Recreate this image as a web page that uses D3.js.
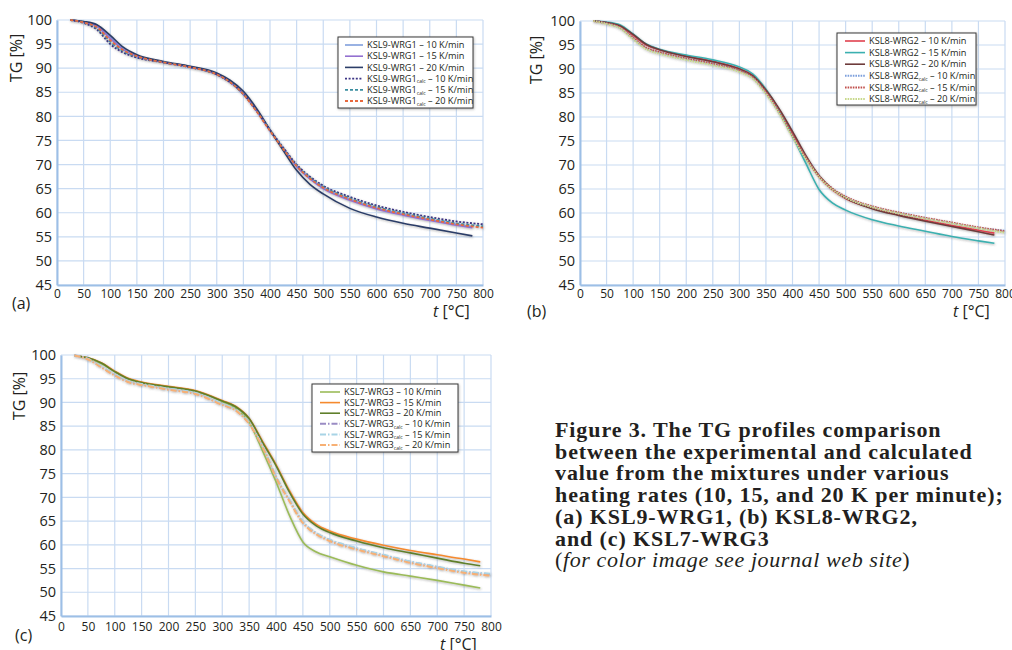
<!DOCTYPE html>
<html>
<head>
<meta charset="utf-8">
<script src="https://cdn.jsdelivr.net/npm/d3@7"></script>
<style>
  html, body { margin: 0; padding: 0; background: #fff; }
  svg { display: block; }
  .tick-y { font: 14.5px "Open Sans", sans-serif; fill: #231f20; }
  .tick-x { font: 12px "Open Sans", sans-serif; fill: #231f20; }
  .ax-title { font: 16px "Open Sans", sans-serif; fill: #231f20; }
  .leg { font: 9.2px "Open Sans", sans-serif; fill: #231f20; }
  .cap { font: bold 22px "Liberation Serif", "Times New Roman", serif; fill: #231f20; }
  .cap-it { font: 22px "Liberation Serif", "Times New Roman", serif; fill: #231f20; }
</style>
</head>
<body>
<div id="chart"></div>
<script>
// temperatures (°C) – experiment stops at 780, calc runs to 800
const tExp  = [25, 50, 75, 100, 125, 150, 200, 250, 300, 325, 350, 375, 400, 425, 450, 475, 500, 550, 600, 650, 700, 750, 780];
const tCalc = [25, 50, 75, 100, 125, 150, 200, 250, 300, 325, 350, 375, 400, 425, 450, 475, 500, 550, 600, 650, 700, 750, 800];

const xTicks = d3.range(0, 801, 50);
const yTicks = d3.range(45, 101, 5);

// (a) KSL9-WRG1
const a_exp10  = [100, 99.6, 98.8, 96.4, 94.0, 92.6, 91.3, 90.3, 88.8, 87.2, 84.8, 81.3, 77.2, 73.4, 69.8, 67.2, 65.2, 62.8, 61.0, 59.7, 58.6, 57.6, 57.1];
const a_exp15  = [100, 99.6, 98.7, 96.2, 93.8, 92.5, 91.2, 90.2, 88.7, 87.1, 84.6, 81.1, 77.0, 73.2, 69.6, 67.0, 65.0, 62.6, 60.8, 59.5, 58.4, 57.4, 56.9];
const a_exp20  = [100, 99.7, 99.0, 96.8, 94.3, 92.8, 91.4, 90.4, 89.0, 87.5, 85.2, 81.6, 77.2, 72.9, 68.8, 65.9, 63.9, 60.9, 59.1, 57.8, 56.8, 55.8, 55.2];
const a_calc10 = [100, 99.4, 98.0, 95.0, 93.2, 92.2, 91.2, 90.2, 88.7, 87.1, 84.7, 81.2, 77.2, 73.5, 70.0, 67.5, 65.6, 63.3, 61.5, 60.2, 59.1, 58.2, 57.6];
const a_calc15 = [100, 99.5, 98.3, 95.5, 93.5, 92.4, 91.2, 90.2, 88.7, 87.1, 84.6, 81.1, 77.1, 73.3, 69.8, 67.3, 65.4, 63.0, 61.2, 59.9, 58.8, 57.8, 57.2];
const a_calc20 = [100, 99.5, 98.5, 95.8, 93.7, 92.5, 91.2, 90.2, 88.7, 87.1, 84.6, 81.0, 77.0, 73.2, 69.7, 67.1, 65.2, 62.8, 61.0, 59.7, 58.6, 57.6, 56.9];

// (b) KSL8-WRG2
const b_exp10  = [100, 99.7, 99.0, 97.0, 95.0, 94.0, 92.7, 91.6, 90.1, 88.7, 85.6, 81.5, 76.6, 71.6, 67.5, 64.8, 63.0, 61.0, 59.6, 58.5, 57.4, 56.4, 55.8];
const b_exp15  = [100, 99.8, 99.2, 97.3, 95.2, 94.1, 92.9, 91.9, 90.4, 89.0, 85.8, 81.4, 76.0, 70.4, 64.9, 62.1, 60.6, 58.6, 57.3, 56.2, 55.1, 54.2, 53.7];
const b_exp20  = [100, 99.7, 99.0, 97.2, 95.1, 94.0, 92.6, 91.5, 90.0, 88.6, 85.6, 81.7, 77.0, 72.0, 67.8, 65.0, 63.1, 60.9, 59.5, 58.3, 57.2, 56.1, 55.4];
const b_calc10 = [100, 99.5, 98.6, 96.4, 94.3, 93.4, 92.1, 91.0, 89.6, 88.2, 85.0, 80.9, 76.0, 71.5, 67.6, 65.0, 63.3, 61.3, 60.0, 58.9, 57.9, 56.9, 56.3];
const b_calc15 = [100, 99.5, 98.7, 96.5, 94.4, 93.5, 92.2, 91.1, 89.7, 88.3, 85.2, 81.1, 76.2, 71.6, 67.7, 65.1, 63.4, 61.4, 60.1, 59.0, 58.0, 57.0, 56.2];
const b_calc20 = [100, 99.4, 98.5, 96.2, 94.1, 93.2, 91.9, 90.8, 89.4, 88.0, 84.8, 80.7, 75.8, 71.3, 67.5, 64.9, 63.2, 61.2, 59.9, 58.8, 57.8, 56.8, 55.9];

// (c) KSL7-WRG3
const c_exp10  = [99.9, 99.3, 98.2, 96.5, 95.0, 94.2, 93.3, 92.4, 90.2, 88.8, 85.8, 79.8, 73.3, 66.2, 60.6, 58.5, 57.5, 55.7, 54.3, 53.4, 52.5, 51.5, 50.9];
const c_exp15  = [99.9, 99.4, 98.4, 96.6, 95.1, 94.3, 93.4, 92.5, 90.4, 89.2, 86.7, 81.8, 76.9, 71.4, 66.8, 64.3, 62.9, 61.2, 59.9, 58.8, 57.9, 57.0, 56.4];
const c_exp20  = [99.9, 99.4, 98.3, 96.5, 95.0, 94.2, 93.3, 92.4, 90.3, 89.1, 86.6, 81.6, 76.7, 71.1, 66.5, 64.0, 62.6, 60.8, 59.4, 58.3, 57.2, 56.1, 55.6];
const c_calc10 = [99.9, 99.2, 97.5, 95.8, 94.4, 93.8, 92.8, 91.9, 89.6, 88.4, 85.6, 80.7, 74.3, 69.4, 64.8, 62.4, 61.0, 59.2, 57.8, 56.4, 55.3, 54.3, 53.8];
const c_calc15 = [99.9, 99.2, 97.6, 95.9, 94.5, 93.9, 92.9, 92.0, 89.7, 88.5, 85.7, 80.8, 74.4, 69.5, 64.9, 62.5, 61.1, 59.3, 57.9, 56.5, 55.4, 54.4, 53.9];
const c_calc20 = [99.9, 99.1, 97.4, 95.7, 94.3, 93.7, 92.7, 91.8, 89.5, 88.3, 85.5, 80.6, 74.2, 69.2, 64.6, 62.2, 60.8, 59.0, 57.6, 56.2, 55.1, 54.1, 53.5];

const rates = ["10", "15", "20"];

// panel layout (pixels)
const panels = [
  { tag: "(a)", name: "KSL9-WRG1", x0: 57, x1: 483, y0: 20, y1: 285, labDy: 13,
    tgX: 17, tgY: 58, tagX: 12, tagY: 309, tX: 433, tY: 317,
    leg: { x: 338, y: 37, w: 135, h: 71, row: 11.2, lx: 345, lw: 18 },
    exp: [a_exp10, a_exp15, a_exp20], calc: [a_calc10, a_calc15, a_calc20],
    expCol: ["#7f9fdc", "#9370d0", "#2c3e68"], calcCol: ["#3d3585", "#3a8ea0", "#e8693e"],
    calcDash: ["2,1.6", "3,2", "3,2"], calcW: 1.8 },
  { tag: "(b)", name: "KSL8-WRG2", x0: 580, x1: 1005, y0: 21, y1: 285, labDy: 13,
    tgX: 537, tgY: 60, tagX: 527, tagY: 317, tX: 953, tY: 317,
    leg: { x: 837, y: 33, w: 139, h: 72, row: 11.6, lx: 845, lw: 20 },
    exp: [b_exp10, b_exp15, b_exp20], calc: [b_calc10, b_calc15, b_calc20],
    expCol: ["#e0404f", "#3bb0b0", "#6e3b3b"], calcCol: ["#7c9fdc", "#c0504d", "#c8d98c"],
    calcDash: ["1.6,1", "1.6,1", "1.6,1"], calcW: 2 },
  { tag: "(c)", name: "KSL7-WRG3", x0: 61, x1: 491, y0: 355, y1: 616, labDy: 15,
    tgX: 20, tgY: 396, tagX: 15, tagY: 641, tX: 440, tY: 650,
    leg: { x: 312, y: 384, w: 146, h: 68, row: 10.6, lx: 320, lw: 20 },
    exp: [c_exp10, c_exp15, c_exp20], calc: [c_calc10, c_calc15, c_calc20],
    expCol: ["#9bbb59", "#f58a2e", "#5f7f2a"], calcCol: ["#9a8cc4", "#a8d4e6", "#f7b074"],
    calcDash: ["6,2,1.5,2", "6,2,1.5,2", "6,2,1.5,2"], calcW: 2 }
];

const W = 1012, H = 650;
const svg = d3.select("#chart").append("svg").attr("width", W).attr("height", H);

const defs = svg.append("defs");
defs.append("filter").attr("id", "shadow")
  .attr("x", "-5%").attr("y", "-5%").attr("width", "110%").attr("height", "110%")
  .append("feDropShadow")
  .attr("dx", 0.6).attr("dy", 1).attr("stdDeviation", 1)
  .attr("flood-color", "#555").attr("flood-opacity", 0.45);

const gridCol = "#c9dbf2";
const axisCol = "#9dbfe6";

panels.forEach(p => {
  const x = d3.scaleLinear().domain([0, 800]).range([p.x0, p.x1]);
  const y = d3.scaleLinear().domain([45, 100]).range([p.y1, p.y0]);
  const g = svg.append("g");

  // grid
  g.append("g").selectAll("line").data(xTicks).join("line")
    .attr("x1", d => x(d)).attr("x2", d => x(d))
    .attr("y1", p.y0).attr("y2", p.y1)
    .attr("stroke", gridCol).attr("stroke-width", 1.2);
  g.append("g").selectAll("line").data(yTicks).join("line")
    .attr("x1", p.x0).attr("x2", p.x1)
    .attr("y1", d => y(d)).attr("y2", d => y(d))
    .attr("stroke", gridCol).attr("stroke-width", 1.2);

  // axes
  const yAxis = g.append("g").attr("transform", `translate(${p.x0},0)`)
    .call(d3.axisLeft(y).tickValues(yTicks).tickSize(0).tickPadding(5))
    .attr("font-family", null).attr("font-size", null);
  yAxis.select(".domain").attr("stroke", axisCol).attr("stroke-width", 2);
  yAxis.selectAll("text").attr("class", "tick-y").attr("fill", null);

  const xAxis = g.append("g").attr("transform", `translate(0,${p.y1})`)
    .call(d3.axisBottom(x).tickValues(xTicks).tickSize(0).tickPadding(p.labDy - 9))
    .attr("font-family", null).attr("font-size", null);
  xAxis.select(".domain").attr("stroke", axisCol).attr("stroke-width", 2);
  xAxis.selectAll("text").attr("class", "tick-x").attr("fill", null);

  // titles
  g.append("text").attr("class", "ax-title")
    .attr("transform", `translate(${p.tgX + 5},${p.tgY}) rotate(-90)`)
    .attr("text-anchor", "middle").text("TG [%]");
  g.append("text").attr("class", "ax-title").attr("x", p.tagX).attr("y", p.tagY).text(p.tag);
  const tt = g.append("text").attr("class", "ax-title").attr("x", p.tX).attr("y", p.tY);
  tt.append("tspan").attr("font-style", "italic").text("t");
  tt.append("tspan").text(" [°C]");

  // curves
  const line = d3.line().x(d => x(d[0])).y(d => y(d[1])).curve(d3.curveMonotoneX);
  const lines = g.append("g").attr("filter", "url(#shadow)");
  p.exp.forEach((vals, i) => {
    lines.append("path").datum(tExp.map((t, k) => [t, vals[k]]))
      .attr("d", line).attr("fill", "none")
      .attr("stroke", p.expCol[i]).attr("stroke-width", 1.6);
  });
  p.calc.forEach((vals, i) => {
    lines.append("path").datum(tCalc.map((t, k) => [t, vals[k]]))
      .attr("d", line).attr("fill", "none")
      .attr("stroke", p.calcCol[i]).attr("stroke-width", p.calcW)
      .attr("stroke-dasharray", p.calcDash[i]);
  });

  // legend
  const L = p.leg;
  const lg = g.append("g");
  lg.append("rect").attr("x", L.x).attr("y", L.y).attr("width", L.w).attr("height", L.h)
    .attr("fill", "#fff").attr("stroke", "#3a3a3a").attr("stroke-width", 1)
    .attr("filter", "url(#shadow)");
  const items = [];
  rates.forEach((r, i) => items.push({ calc: false, rate: r, col: p.expCol[i], dash: null, w: 1.6 }));
  rates.forEach((r, i) => items.push({ calc: true, rate: r, col: p.calcCol[i], dash: p.calcDash[i], w: p.calcW }));
  items.forEach((it, i) => {
    const cy = L.y + 8 + i * L.row;
    lg.append("line").attr("x1", L.lx).attr("x2", L.lx + L.lw)
      .attr("y1", cy).attr("y2", cy)
      .attr("stroke", it.col).attr("stroke-width", it.w)
      .attr("stroke-dasharray", it.dash);
    const tx = lg.append("text").attr("class", "leg")
      .attr("x", L.lx + L.lw + 4).attr("y", cy + 3.2);
    tx.append("tspan").text(p.name);
    if (it.calc) tx.append("tspan").attr("font-size", "5px").attr("dy", 1.5).text("calc");
    tx.append("tspan").attr("dy", it.calc ? -1.5 : 0).text(` – ${it.rate} K/min`);
  });
});

// caption
const capLines = [
  "Figure 3. The TG profiles comparison",
  "between the experimental and calculated",
  "value from the mixtures under various",
  "heating rates (10, 15, and 20 K per minute);",
  "(a) KSL9-WRG1, (b) KSL8-WRG2,",
  "and (c) KSL7-WRG3"
];
const cap = svg.append("g");
capLines.forEach((s, i) => {
  cap.append("text").attr("class", "cap").attr("x", 555).attr("y", 437 + i * 21.7)
    .attr("letter-spacing", 0.9).text(s);
});
const last = cap.append("text").attr("class", "cap-it").attr("x", 555).attr("y", 437 + 6 * 21.7)
  .attr("letter-spacing", 0.6);
last.append("tspan").text("(");
last.append("tspan").attr("font-style", "italic").text("for color image see journal web site");
last.append("tspan").text(")");
</script>
</body>
</html>
